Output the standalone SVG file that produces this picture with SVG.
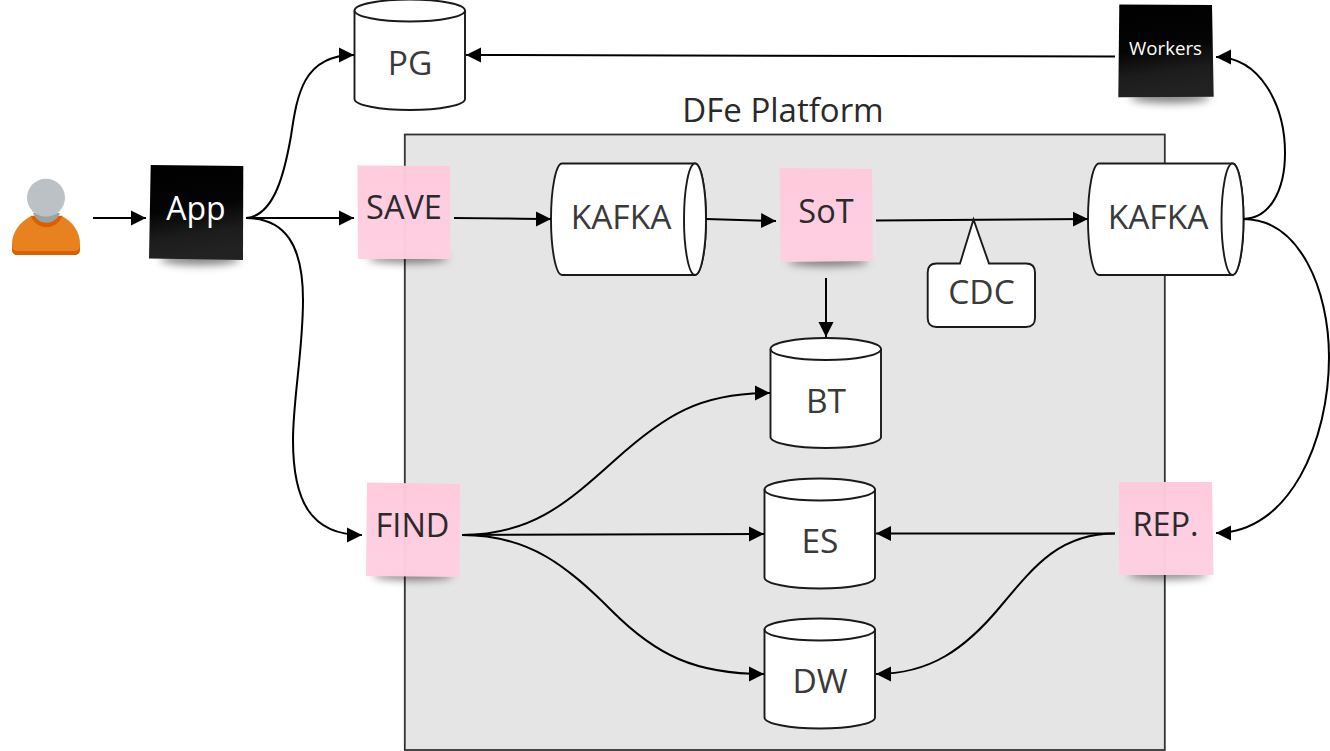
<svg xmlns="http://www.w3.org/2000/svg" width="1330" height="751" viewBox="0 0 1330 751">
<style>
text{font-family:"Open Sans","Noto Sans","DejaVu Sans",sans-serif;text-anchor:middle}
.shape{fill:#fff;stroke:#1a1a1a;stroke-width:1.9}
.lbl{font-size:33.500px;fill:#3a3a3a}
.pink{fill:url(#pinkGrad)}
.dark{fill:url(#darkGrad)}
.pinkt{font-size:32.500px;fill:#2a2a2a}
.shadow{fill:#000;fill-opacity:.5;filter:url(#blur)}
.conn path{fill:none;stroke:#000;stroke-width:2;marker-end:url(#arrow)}
</style>
<defs>
<marker id="arrow" markerUnits="userSpaceOnUse" markerWidth="16" markerHeight="16" refX="15" refY="8" orient="auto">
<path d="M0 .5L15 8L0 15.500Z" fill="#000"/>
</marker>
<filter id="blur" x="-30%" y="-150%" width="160%" height="400%"><feGaussianBlur stdDeviation="4"/></filter>
<linearGradient id="darkGrad" x1="0" y1="0" x2="0.15" y2="1">
<stop offset="0" stop-color="#000"/><stop offset=".5" stop-color="#040404"/><stop offset=".78" stop-color="#1c1c1c"/><stop offset="1" stop-color="#222"/>
</linearGradient>
<linearGradient id="pinkGrad" x1="0" y1="0" x2="0" y2="1">
<stop offset="0" stop-color="#ffc9dc" stop-opacity=".97"/><stop offset="1" stop-color="#ffd0e2" stop-opacity=".97"/>
</linearGradient>
</defs>
<rect width="1330" height="751" fill="#fff"/>

<g id="platform">
<rect x="404.800" y="134.500" width="760" height="615.500" fill="#e5e5e5" stroke="#333" stroke-width="1.800"/>
<text x="783" y="122" font-size="33" fill="#2a2a2a">DFe Platform</text>
</g>

<g id="user">
<path d="M12 244C12 232 20 222 31 216L62 216C73 222 80 232 80 244L80 249Q80 255 74 255L18 255Q12 255 12 249Z" fill="#e8821f"/>
<path d="M12 245L12 249Q12 255 18 255L74 255Q80 255 80 249L80 245Q80 251 74 251L18 251Q12 251 12 245Z" fill="#d95f02"/>
<path d="M30.700 215.700L62.300 215.700C57 231 36 231 30.700 215.700Z" fill="#d95f02"/>
<path d="M33 213L60 213C55 226 38 226 33 213Z" fill="#98a3a5"/>
<circle cx="46" cy="197.700" r="19" fill="#bbc1c5"/>
</g>

<g id="app">
<ellipse class="shadow" cx="200" cy="259" rx="40" ry="6"/>
<path class="dark" d="M150.700 165L243.300 166L243 260L149 258.500Z"/>
<text x="196" y="220" font-size="32" fill="#fff">App</text>
</g>

<g id="pg">
<path class="shape" d="M354.500 10.500A55.250 11 0 0 1 465 10.500L465 99A55.250 11 0 0 1 354.500 99Z"/>
<path class="shape" style="fill:none" d="M354.500 10.500A55.250 11 0 0 0 465 10.500"/>
<text class="lbl" x="410" y="74.500">PG</text>
</g>

<g id="workers">
<ellipse class="shadow" cx="1170" cy="97" rx="40" ry="6"/>
<path class="dark" d="M1119.300 4.500L1212 5L1213.700 96.700L1118.300 97.300Z"/>
<text x="1165.500" y="55" font-size="18.700" fill="#fff">Workers</text>
</g>

<g id="save">
<ellipse class="shadow" cx="408" cy="258" rx="40" ry="5"/>
<path class="pink" d="M357.500 165.500L450 166L450.500 259L358 259Z"/>
<text class="pinkt" x="404" y="219">SAVE</text>
</g>

<g id="kafka1">
<path class="shape" d="M562 163.500L695 163.500A11 55.750 0 0 1 695 275L562 275A11 55.750 0 0 1 562 163.500Z"/>
<ellipse class="shape" cx="695" cy="219.250" rx="11" ry="55.750"/>
<text class="lbl" x="621" y="228.500">KAFKA</text>
</g>

<g id="sot">
<ellipse class="shadow" cx="828" cy="261" rx="40" ry="5"/>
<path class="pink" d="M779.500 168L872 169L873 261L780.500 262Z"/>
<text class="pinkt" x="826" y="222.500">SoT</text>
</g>

<g id="kafka2">
<path class="shape" d="M1099 163.500L1232.500 163.500A11 55.750 0 0 1 1232.500 275L1099 275A11 55.750 0 0 1 1099 163.500Z"/>
<ellipse class="shape" cx="1232.500" cy="219.250" rx="11" ry="55.750"/>
<text class="lbl" x="1158" y="228.500">KAFKA</text>
</g>

<g id="bt">
<path class="shape" d="M770.500 349A55.250 11 0 0 1 881 349L881 437A55.250 11 0 0 1 770.500 437Z"/>
<path class="shape" style="fill:none" d="M770.500 349A55.250 11 0 0 0 881 349"/>
<text class="lbl" x="826" y="413">BT</text>
</g>

<g id="es">
<path class="shape" d="M764.500 489.500A55.250 11 0 0 1 875 489.500L875 577.500A55.250 11 0 0 1 764.500 577.500Z"/>
<path class="shape" style="fill:none" d="M764.500 489.500A55.250 11 0 0 0 875 489.500"/>
<text class="lbl" x="820" y="553">ES</text>
</g>

<g id="dw">
<path class="shape" d="M764.500 629.500A55.250 11 0 0 1 875 629.500L875 717.500A55.250 11 0 0 1 764.500 717.500Z"/>
<path class="shape" style="fill:none" d="M764.500 629.500A55.250 11 0 0 0 875 629.500"/>
<text class="lbl" x="820" y="693">DW</text>
</g>

<g id="find">
<ellipse class="shadow" cx="413" cy="575" rx="40" ry="5"/>
<path class="pink" d="M367 482.500L460 484L459.500 577L366 576Z"/>
<text class="pinkt" x="412.500" y="536.500">FIND</text>
</g>

<g id="rep">
<ellipse class="shadow" cx="1168" cy="574" rx="40" ry="5"/>
<path class="pink" d="M1119 482L1212 482L1213.500 575L1119 575Z"/>
<text class="pinkt" x="1165.500" y="535.500">REP.</text>
</g>

<g id="connectors" class="conn">
<path d="M93 218L146 218"/>
<path d="M246 218C275 216 285 170 291 136C297 95 303 55 354 55"/>
<path d="M246 218L354 218"/>
<path d="M246 218C285 218 303 245 303 300C303 350 293 400 293 440C293 500 310 535 362 535"/>
<path d="M1115 56.500L466 55"/>
<path d="M454 218C490 218 515 219 551 219"/>
<path d="M706 219L776 221"/>
<path d="M876 220.500L1088 219"/>
<path d="M826 278L826 337"/>
<path d="M462 535C530 535 565 505 615 460C665 415 700 393 770 393"/>
<path d="M462 535L764 534"/>
<path d="M462 535C530 535 568 567 612 611C656 655 695 674 764 674"/>
<path d="M1115 533.500C1115 533.500 1115 533.500 876 533.500"/>
<path d="M1115 533.500C1060 533.500 1035 565 1000 607C965 649 930 674 876 674"/>
<path d="M1243 219C1270 219 1285 190 1285 153C1285 105 1260 57 1216 57"/>
<path d="M1243 219C1300 219 1329 290 1329 357C1329 440 1290 533 1216 533"/>
</g>

<g id="cdc">
<path class="shape" d="M936.500 263.500L960 263.500L973.500 219.500L989 263.500L1026 263.500Q1035 263.500 1035 272.500L1035 318Q1035 327 1026 327L936.500 327Q927.700 327 927.700 318L927.700 272.500Q927.700 263.500 936.500 263.500Z"/>
<text class="lbl" x="981.500" y="304">CDC</text>
</g>
</svg>
